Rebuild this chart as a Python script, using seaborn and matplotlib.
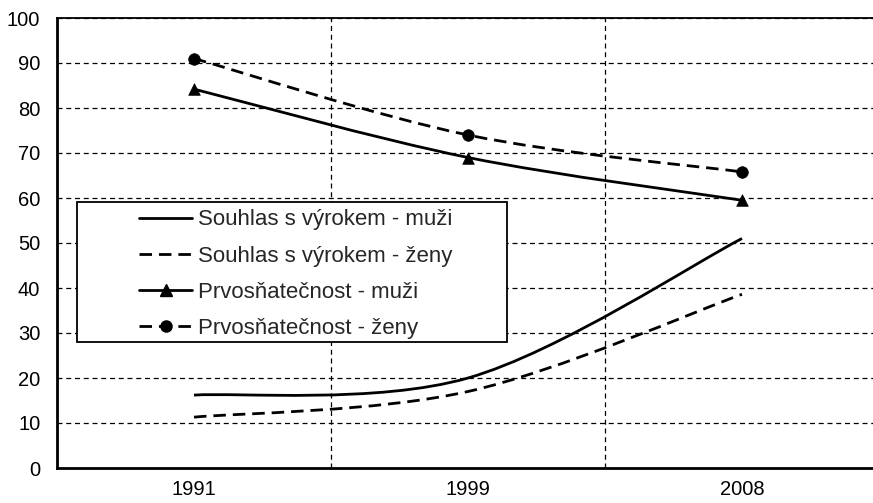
import numpy as np
import pandas as pd
import matplotlib
matplotlib.use("Agg")
import matplotlib.pyplot as plt
from matplotlib.path import Path
from matplotlib.patches import PathPatch, Rectangle
from matplotlib.lines import Line2D
import seaborn as sns

# data
years = ["1991", "1999", "2008"]
souhlas_muzi = [16.2, 20.0, 51.0]
souhlas_zeny = [11.3, 17.0, 38.6]
prvosn_muzi = [84.2, 69.0, 59.5]
prvosn_zeny = [91.0, 74.0, 65.8]
labels = ["Souhlas s výrokem - muži", "Souhlas s výrokem - ženy",
          "Prvosňatečnost - muži", "Prvosňatečnost - ženy"]

sns.set_style("white")
plt.rcParams['font.family'] = ['Liberation Sans', 'DejaVu Sans']

fig = plt.figure(figsize=(8.73, 5.03), dpi=100)
ax = fig.add_axes([57 / 873, 35 / 503, 822 / 873, 450 / 503])

x = np.arange(len(years))


def smooth_path(xs, ys):
    # excel-like smoothed line: cubic bezier between the points
    pts = np.column_stack([xs, ys]).astype(float)
    ext = np.vstack([pts[0], pts, pts[-1]])
    verts = [pts[0]]
    codes = [Path.MOVETO]
    for i in range(len(pts) - 1):
        p0, p1, p2, p3 = ext[i], ext[i + 1], ext[i + 2], ext[i + 3]
        verts += [p1 + (p2 - p0) / 6, p2 - (p3 - p1) / 6, p2]
        codes += [Path.CURVE4] * 3
    return Path(verts, codes)


dash = (0, (4.5, 2.5))
series = [
    (souhlas_muzi, "-", None),
    (souhlas_zeny, dash, None),
    (prvosn_muzi, "-", "^"),
    (prvosn_zeny, dash, "o"),
]

for vals, ls, mk in series:
    ax.add_patch(PathPatch(smooth_path(x, vals), fill=False, edgecolor="black",
                           linewidth=2, linestyle=ls, capstyle="butt", zorder=3))
    if mk:
        sns.scatterplot(x=x, y=vals, marker=mk, s=70, color="black",
                        edgecolor="black", linewidth=0.5, ax=ax, zorder=4)

ax.set_xlim(-0.5, 2.5)
ax.set_ylim(0, 100)
ax.set_yticks(np.arange(0, 101, 10))

# category boundaries as major ticks, year labels in the middle
ax.set_xticks([-0.5, 0.5, 1.5, 2.5])
ax.set_xticklabels([])
ax.set_xticks(x, minor=True)
ax.set_xticklabels(years, minor=True)
ax.tick_params(axis="x", which="minor", length=0, pad=8.5)
ax.tick_params(axis="x", which="major", length=5, width=1, direction="out", color="black")
ax.tick_params(axis="y", length=5, width=1, direction="out", color="black", pad=7)
ax.tick_params(axis="both", which="both", labelsize=14.5, labelcolor="black")

ax.grid(True, which="major", axis="both", color="black", linestyle=(0, (4, 3)),
        linewidth=0.9)
ax.set_axisbelow(True)

for side in ["left", "bottom"]:
    ax.spines[side].set_linewidth(2)
    ax.spines[side].set_color("black")
ax.spines["top"].set_linewidth(1.3)
ax.spines["top"].set_color("black")
ax.spines["right"].set_visible(False)

# legend box (wider than its content, as in the original)
ax.add_patch(Rectangle((20 / 822, 126 / 450), 430 / 822, 140 / 450,
                       transform=ax.transAxes, facecolor="white", edgecolor="black",
                       linewidth=1.3, zorder=5))

handles = [
    Line2D([], [], color="black", lw=2, linestyle="-"),
    Line2D([], [], color="black", lw=2, linestyle=dash),
    Line2D([], [], color="black", lw=2, linestyle="-", marker="^", markersize=8),
    Line2D([], [], color="black", lw=2, linestyle=dash, marker="o", markersize=8),
]
leg = ax.legend(handles, labels, loc="upper left",
                bbox_to_anchor=(82 / 822, 258.5 / 450),
                frameon=False, fontsize=16, handlelength=2.4, borderpad=0,
                labelspacing=0.68, handletextpad=0.25, borderaxespad=0)
leg.set_zorder(6)

fig.savefig("out.png", dpi=100)
